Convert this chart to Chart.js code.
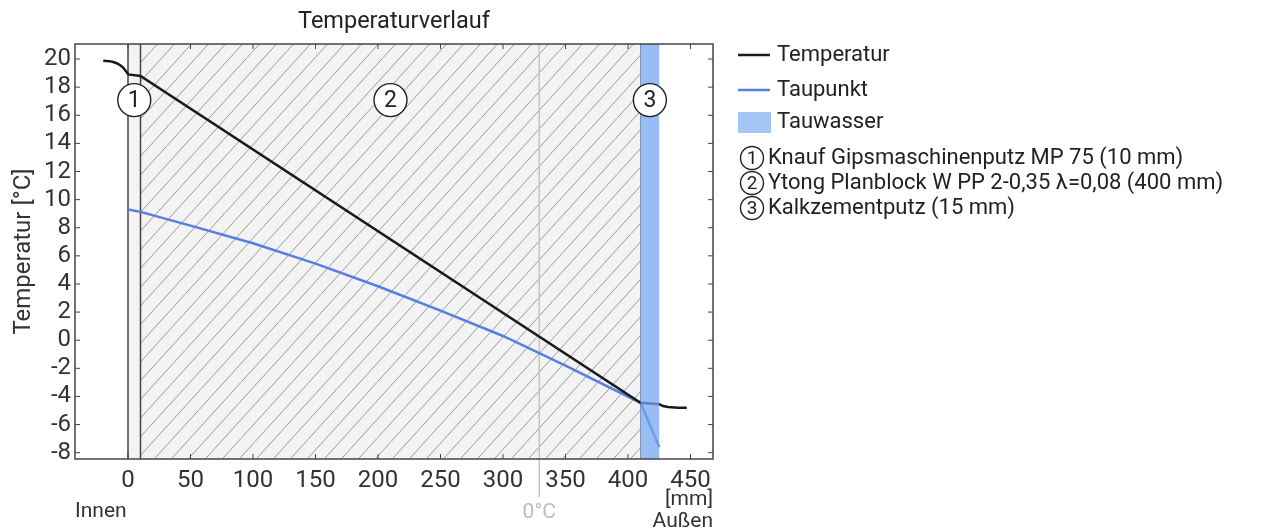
<!DOCTYPE html>
<html>
<head>
<meta charset="utf-8">
<script src="https://cdn.jsdelivr.net/npm/chart.js@4/dist/chart.umd.min.js"></script>
<style>
  body { margin: 0; background: #fff; }
  #wrap { width: 1278px; height: 531px; }
</style>
</head>
<body>
<div id="wrap"><canvas id="chartCanvas" width="1278" height="531"></canvas></div>
<script>
// temperature profile through the wall [mm] -> [°C]
const tempPos = [-19.8, -15, -11.8, -9, -6.4, -4.2, -2.4, -1, 0.2, 10, 410, 425, 428, 432, 440, 447];
const tempValues = [19.88, 19.85, 19.79, 19.7, 19.57, 19.42, 19.22, 19.06, 18.91, 18.79, -4.45, -4.55, -4.68, -4.75, -4.8, -4.8];

// dew point profile
const dewPos = [0, 10, 50, 100, 150, 200, 250, 300, 350, 410, 425];
const dewValues = [9.3, 9.13, 8.15, 6.9, 5.45, 3.84, 2.11, 0.3, -1.8, -4.45, -7.6];

// layer boundaries [mm]
const layerBounds = [0, 10, 410, 425];
const layerNames = [
  'Knauf Gipsmaschinenputz MP 75 (10 mm)',
  'Ytong Planblock W PP 2-0,35 \u03bb=0,08 (400 mm)',
  'Kalkzementputz (15 mm)',
];
const layerMarkerPos = [5, 210, 417.5];
const zeroDegreePos = 329;

const xTicks = [0, 50, 100, 150, 200, 250, 300, 350, 400, 450];
const yTicks = [-8, -6, -4, -2, 0, 2, 4, 6, 8, 10, 12, 14, 16, 18, 20];

const FONT = 'Roboto';
const chartTitle = 'Temperaturverlauf';
const dewColor = 'rgb(88, 125, 228)';
const waterColor = 'rgba(118, 165, 240, 0.75)';

const wallPlugin = {
  id: 'wall',
  beforeDatasetsDraw(chart) {
    const { ctx, chartArea: a, scales: { x } } = chart;
    const x0 = x.getPixelForValue(layerBounds[0]);
    const x1 = x.getPixelForValue(layerBounds[1]);
    const x2 = x.getPixelForValue(layerBounds[2]);
    ctx.save();
    // light fill of the plaster and the block
    ctx.fillStyle = '#f3f3f3';
    ctx.fillRect(x0, a.top, x2 - x0, a.bottom - a.top);

    // hatching of the block layer
    ctx.save();
    ctx.beginPath();
    ctx.rect(x1, a.top, x2 - x1, a.bottom - a.top);
    ctx.clip();
    ctx.strokeStyle = '#9a9a9a';
    ctx.lineWidth = 1;
    const h = a.bottom - a.top;
    const slope = 1.1;
    for (let sx = x1 - h / slope; sx < x2 + 20; sx += 17) {
      ctx.beginPath();
      ctx.moveTo(sx, a.bottom);
      ctx.lineTo(sx + h / slope, a.top);
      ctx.stroke();
    }
    ctx.restore();

    // 0°C line
    const xz = x.getPixelForValue(zeroDegreePos);
    ctx.strokeStyle = '#c4c4c4';
    ctx.lineWidth = 1.5;
    ctx.beginPath();
    ctx.moveTo(xz, a.top);
    ctx.lineTo(xz, a.bottom + 38);
    ctx.stroke();

    // layer borders
    ctx.strokeStyle = '#444';
    ctx.lineWidth = 1.5;
    [x0, x1].forEach((px) => {
      ctx.beginPath();
      ctx.moveTo(px, a.top);
      ctx.lineTo(px, a.bottom);
      ctx.stroke();
    });
    ctx.strokeStyle = '#8a8a8a';
    ctx.lineWidth = 1;
    ctx.beginPath();
    ctx.moveTo(x2, a.top);
    ctx.lineTo(x2, a.bottom);
    ctx.stroke();
    ctx.restore();
  },
  afterDatasetsDraw(chart) {
    const { ctx, chartArea: a, scales: { x, y } } = chart;
    const x2 = x.getPixelForValue(layerBounds[2]);
    const x3 = x.getPixelForValue(layerBounds[3]);
    ctx.save();
    // condensation zone over the outer plaster
    ctx.fillStyle = waterColor;
    ctx.fillRect(x2, a.top, x3 - x2, a.bottom - a.top);

    // numbered layer markers
    const my = y.getPixelForValue(17.08);
    layerMarkerPos.forEach((pos, i) => {
      drawNumberCircle(ctx, x.getPixelForValue(pos), my, 16.5, String(i + 1), 23);
    });
    ctx.restore();
  },
  afterDraw(chart) {
    const { ctx, chartArea: a, scales: { x, y } } = chart;
    ctx.save();
    // title, centred over the plot area
    ctx.font = '23.5px ' + FONT;
    ctx.fillStyle = '#222';
    ctx.textAlign = 'center';
    ctx.textBaseline = 'middle';
    ctx.fillText(chartTitle, (a.left + a.right) / 2, 22);

    // frame
    ctx.strokeStyle = '#444';
    ctx.lineWidth = 1.5;
    ctx.strokeRect(a.left, a.top, a.right - a.left, a.bottom - a.top);

    // inward tick marks on all four sides
    ctx.lineWidth = 1;
    const tl = 5;
    xTicks.forEach((v) => {
      const px = x.getPixelForValue(v);
      ctx.beginPath();
      ctx.moveTo(px, a.bottom);
      ctx.lineTo(px, a.bottom - tl);
      ctx.moveTo(px, a.top);
      ctx.lineTo(px, a.top + tl);
      ctx.stroke();
    });
    yTicks.forEach((v) => {
      const py = y.getPixelForValue(v);
      ctx.beginPath();
      ctx.moveTo(a.left, py);
      ctx.lineTo(a.left + tl, py);
      ctx.moveTo(a.right, py);
      ctx.lineTo(a.right - tl, py);
      ctx.stroke();
    });

    // extra axis annotations
    ctx.font = '21px ' + FONT;
    ctx.textBaseline = 'middle';
    ctx.fillStyle = '#333';
    ctx.textAlign = 'left';
    ctx.fillText('Innen', a.left, 512);
    ctx.textAlign = 'right';
    ctx.fillText('[mm]', a.right, 500);
    ctx.fillText('Außen', a.right, 522);
    ctx.textAlign = 'center';
    ctx.fillStyle = '#bdbdbd';
    ctx.fillText('0°C', x.getPixelForValue(zeroDegreePos), 513);

    // legend
    const lx = 738;
    ctx.font = '22px ' + FONT;
    ctx.textAlign = 'left';
    ctx.fillStyle = '#222';
    ctx.lineWidth = 2.5;
    ctx.strokeStyle = '#1a1a1a';
    ctx.beginPath();
    ctx.moveTo(lx, 55);
    ctx.lineTo(lx + 32, 55);
    ctx.stroke();
    ctx.fillText(chart.data.datasets[0].label, lx + 39, 55);
    ctx.strokeStyle = dewColor;
    ctx.beginPath();
    ctx.moveTo(lx, 90);
    ctx.lineTo(lx + 32, 90);
    ctx.stroke();
    ctx.fillText(chart.data.datasets[1].label, lx + 39, 90);
    ctx.fillStyle = 'rgb(165, 198, 245)';
    ctx.fillRect(lx, 112, 33, 21);
    ctx.fillStyle = '#222';
    ctx.fillText('Tauwasser', lx + 39, 122);
    layerNames.forEach((name, i) => {
      const ly = 158 + i * 25;
      drawNumberCircle(ctx, 752, ly, 11.5, String(i + 1), 19);
      ctx.font = '22px ' + FONT;
      ctx.textAlign = 'left';
      ctx.fillStyle = '#222';
      ctx.fillText(name, 768, ly);
    });
    ctx.restore();
  },
};

function drawNumberCircle(ctx, cx, cy, r, label, size) {
  ctx.save();
  ctx.beginPath();
  ctx.arc(cx, cy, r, 0, Math.PI * 2);
  ctx.fillStyle = '#fff';
  ctx.fill();
  ctx.strokeStyle = '#222';
  ctx.lineWidth = 1.4;
  ctx.stroke();
  ctx.fillStyle = '#222';
  ctx.font = size + 'px ' + FONT;
  ctx.textAlign = 'center';
  ctx.textBaseline = 'middle';
  ctx.fillText(label, cx, cy + 1);
  ctx.restore();
}

const ctx = document.getElementById('chartCanvas').getContext('2d');
const chart = new Chart(ctx, {
  type: 'line',
  data: {
    datasets: [
      {
        label: 'Temperatur',
        data: tempPos.map((p, i) => ({ x: p, y: tempValues[i] })),
        borderColor: '#1a1a1a',
        borderWidth: 2.5,
        pointRadius: 0,
        tension: 0,
      },
      {
        label: 'Taupunkt',
        data: dewPos.map((p, i) => ({ x: p, y: dewValues[i] })),
        borderColor: dewColor,
        borderWidth: 2.5,
        pointRadius: 0,
        tension: 0,
      },
    ],
  },
  options: {
    responsive: false,
    animation: false,
    devicePixelRatio: 1,
    layout: { padding: { left: 0, right: 565, top: 44, bottom: 0 } },
    plugins: {
      legend: { display: false },
      tooltip: { enabled: false },
      title: { display: false },
    },
    scales: {
      x: {
        type: 'linear',
        min: -42.4,
        max: 468,
        grid: { display: false, drawTicks: false },
        border: { display: false },
        afterBuildTicks: (s) => { s.ticks = xTicks.map((v) => ({ value: v })); },
        afterFit: (s) => { s.height = 72; },
        ticks: {
          padding: 8,
          color: '#333',
          maxRotation: 0,
          autoSkip: false,
          font: { family: FONT, size: 24 },
        },
      },
      y: {
        min: -8.45,
        max: 21.07,
        grid: { display: false, drawTicks: false },
        border: { display: false },
        afterBuildTicks: (s) => { s.ticks = yTicks.map((v) => ({ value: v })); },
        afterFit: (s) => { s.width = 75; },
        ticks: {
          padding: 4,
          color: '#333',
          autoSkip: false,
          font: { family: FONT, size: 24, lineHeight: 1 },
        },
        title: {
          display: true,
          text: 'Temperatur [°C]',
          color: '#333',
          font: { family: FONT, size: 24 },
          padding: { top: 10, bottom: 0 },
        },
      },
    },
  },
  plugins: [wallPlugin],
});
</script>
</body>
</html>
